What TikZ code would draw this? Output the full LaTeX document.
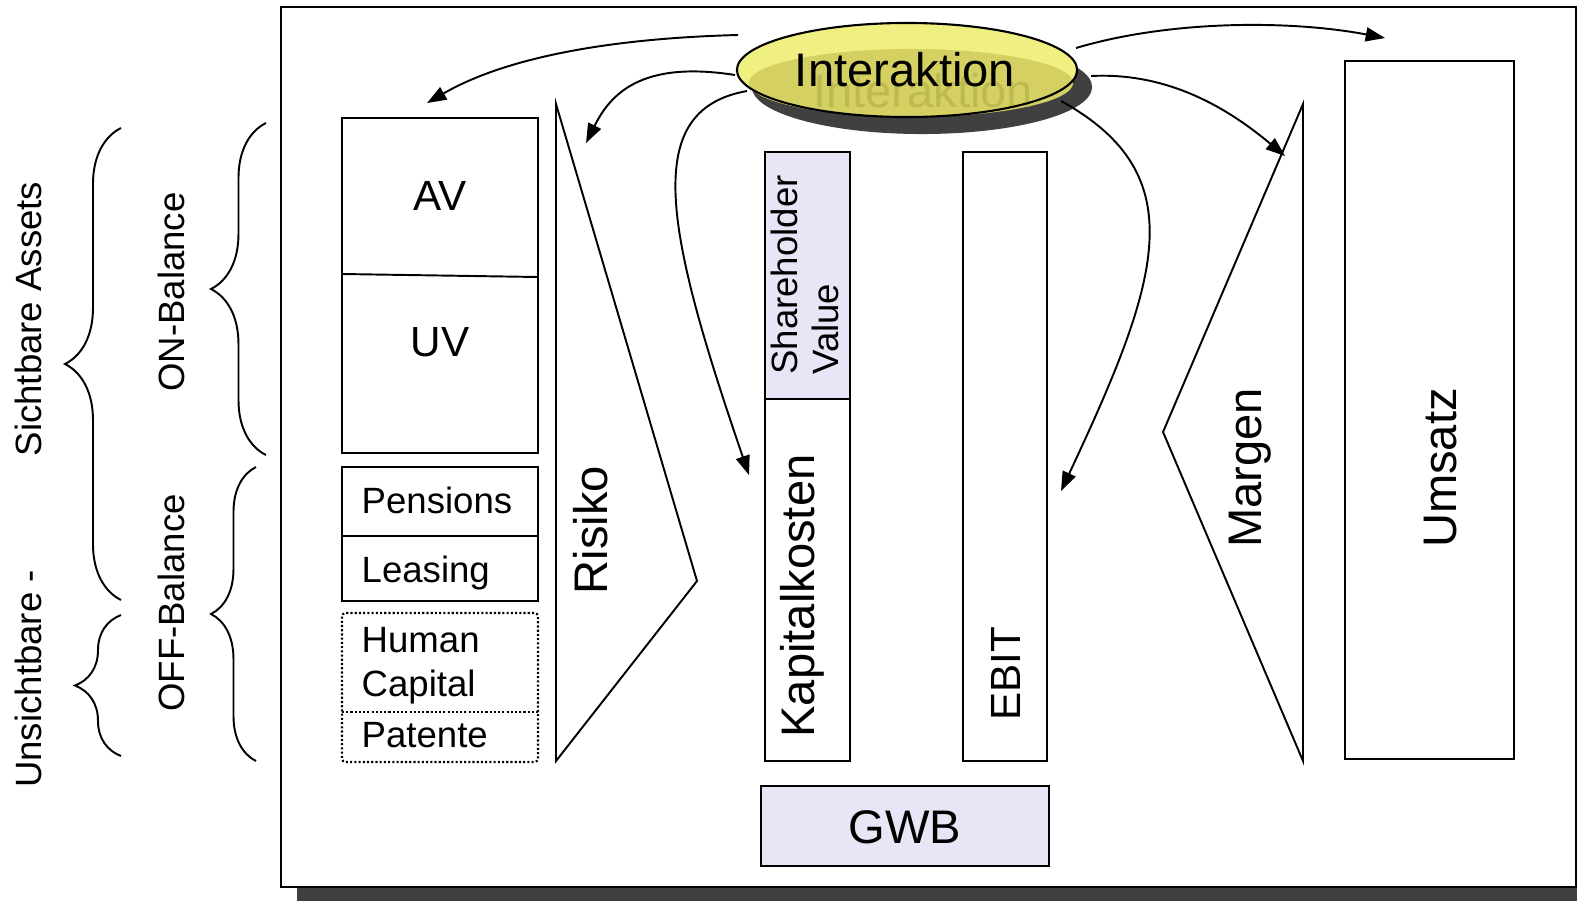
\documentclass[tikz,border=0pt]{standalone}
\usepackage{fontspec}
\setmainfont{Liberation Sans}
\usetikzlibrary{arrows.meta,decorations.pathreplacing}
\definecolor{lavender}{RGB}{230,230,246}
\definecolor{ellyellow}{RGB}{240,240,130}
\definecolor{elldark}{RGB}{212,208,98}
\definecolor{ghosttext}{RGB}{190,186,82}
\definecolor{shadowgray}{RGB}{64,64,64}
\newcommand{\bigsize}{\fontsize{13.4}{15}\selectfont}
\newcommand{\midsize}{\fontsize{12}{14}\selectfont}
\newcommand{\smallsize}{\fontsize{10.4}{12.5}\selectfont}
\tikzset{
  boxline/.style={draw=black, line width=0.55pt},
  dotbox/.style={draw=black, line width=0.6pt, dash pattern=on 0.6pt off 0.6pt, rounded corners=1pt},
  link/.style={-{Triangle[length=5.5pt,width=4pt]}, line width=0.55pt},
  curly/.style={decorate, line width=0.55pt},
  bigtext/.style={font=\bigsize},
  midtext/.style={font=\midsize},
  smalltext/.style={font=\smallsize},
}
\begin{document}
\begin{tikzpicture}[x=0.01cm, y=-0.01cm]
\useasboundingbox (0,0) rectangle (1577,900);
% frame with shadow
\fill[shadowgray] (297,23) rectangle (1600,910);
\draw[line width=0.7pt, fill=white] (281,7) rectangle (1576,887);

% braces on the left
\foreach \xb/\ya/\yb/\amp in {121/600/128/0.56cm, 121/756/615/0.46cm, 266/455/123/0.55cm, 256/761/467/0.45cm}
{
\draw[curly, decoration={brace, amplitude=\amp}] (\xb,\ya) -- (\xb,\yb);
}
\node[rotate=90, smalltext] (sichtbar) at (28,319) {Sichtbare Assets};
\node[rotate=90, smalltext] (unsichtbar) at (28,679) {Unsichtbare -};
\node[rotate=90, smalltext] (onbal) at (171,292) {ON-Balance};
\node[rotate=90, smalltext] (offbal) at (171,603) {OFF-Balance};

% assets
\draw[boxline] (342,118) rectangle (538,453);
\draw[boxline] (342,274) -- (538,277);
\node[midtext] (av) at (440,196) {AV};
\node[midtext] (uv) at (440,342) {UV};
\draw[boxline] (342,467) rectangle (538,601);
\draw[boxline] (342,536) -- (538,536);
\node[smalltext, anchor=west, inner sep=0] (pens) at (361,500) {Pensions};
\node[smalltext, anchor=west, inner sep=0] (leas) at (361,573) {Leasing};
\draw[dotbox] (342,613) rectangle (538,762);
\draw[dotbox] (342,712) -- (538,712);
\node[smalltext, anchor=west, inner sep=0, align=left] (human) at (361,666) {Human\\Capital};
\node[smalltext, anchor=west, inner sep=0] (pat) at (361,735) {Patente};

% Risiko
\draw[boxline] (556,104) -- (697,581) -- (556,761) -- cycle;
\node[rotate=90, bigtext] (risiko) at (591,530) {Risiko};

% Kapitalkosten, EBIT, GWB
\draw[boxline, fill=lavender] (765,152) rectangle (850,399);
\draw[boxline] (765,399) rectangle (850,761);
\node[rotate=90, font=\fontsize{10.4}{11.6}\selectfont, align=left] (shv) at (805,275) {Shareholder\\Value};
\node[rotate=90, bigtext] (kk) at (802,596) {Kapitalkosten};
\draw[boxline] (963,152) rectangle (1047,761);
\node[rotate=90, midtext] (ebit) at (1006,674) {EBIT};
\draw[boxline, fill=lavender] (761,786) rectangle (1049,866);
\node[bigtext] (gwb) at (905,827) {GWB};

% Margen, Umsatz
\draw[boxline] (1303,104) -- (1163,432) -- (1303,761) -- cycle;
\node[rotate=90, bigtext] (margen) at (1250,468) {Margen};
\draw[boxline] (1345,61) rectangle (1514,759);
\node[rotate=90, bigtext] (umsatz) at (1440,468) {Umsatz};

% Interaktion
\fill[shadowgray] (922,87) ellipse [x radius=1.7cm, y radius=0.47cm];
\fill[ellyellow] (907,70) ellipse [x radius=1.7cm, y radius=0.47cm];
\fill[elldark] (911,83) ellipse [x radius=1.62cm, y radius=0.34cm];
\node[bigtext, text=ghosttext] (ghost) at (923,91) {Interaktion};
\draw[line width=0.6pt] (907,70) ellipse [x radius=1.7cm, y radius=0.47cm];
\node[bigtext] (inter) at (905,70) {Interaktion};

\coordinate (s1) at (738,35);   \coordinate (t1) at (427,103);
\coordinate (s2) at (735,75);   \coordinate (t2) at (586,143);
\coordinate (s3) at (747,91);   \coordinate (t3) at (749,475);
\coordinate (s4) at (1061,101); \coordinate (t4) at (1061,491);
\coordinate (s5) at (1091,76);  \coordinate (t5) at (1285,156);
\coordinate (s6) at (1076,48);  \coordinate (t6) at (1385,38);
\draw[link] (s1) .. controls (620,38) and (510,55) .. (t1);
\draw[link] (s2) .. controls (640,60) and (610,95) .. (t2);
\draw[link] (s3) .. controls (640,110) and (665,230) .. (t3);
\draw[link] (s4) .. controls (1195,175) and (1160,280) .. (t4);
\draw[link] (s5) .. controls (1170,72) and (1230,110) .. (t5);
\draw[link] (s6) .. controls (1170,20) and (1290,20) .. (t6);
\end{tikzpicture}
\end{document}
